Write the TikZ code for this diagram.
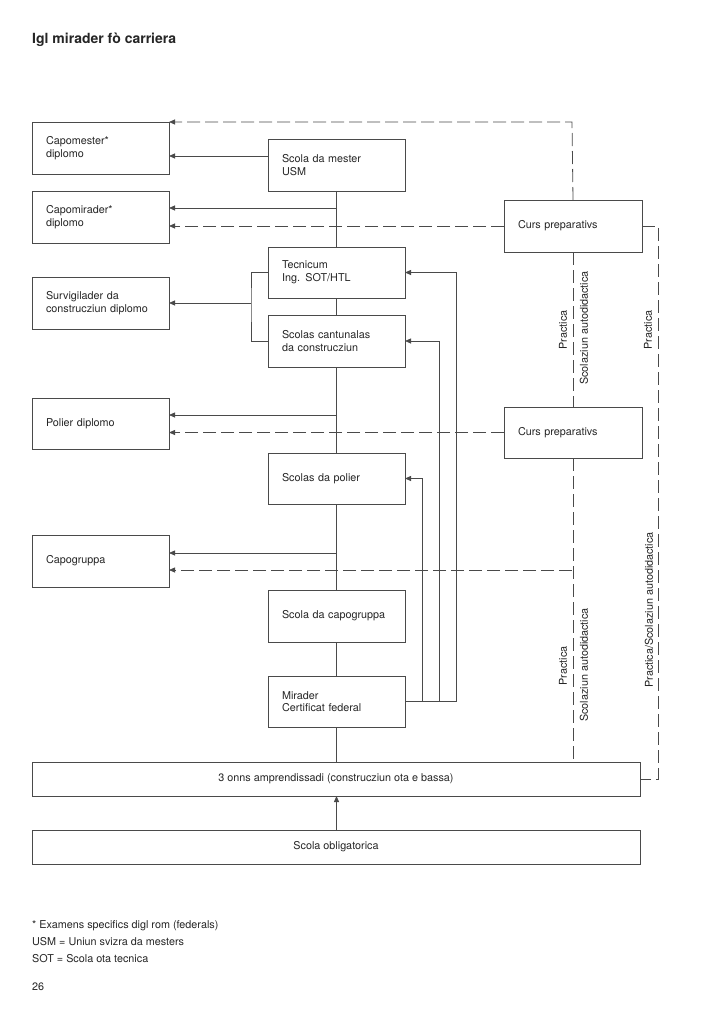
\documentclass[tikz,border=0pt]{standalone}
\usepackage{fontspec}
\setmainfont{TeX Gyre Heros}
\usetikzlibrary{arrows.meta}
\definecolor{lc}{HTML}{4A4A4A}
\definecolor{tc}{HTML}{262626}
\begin{document}
\begin{tikzpicture}[x=1pt,y=-1pt,
  every node/.style={text=tc},
  bfont/.style={font=\fontsize{10.8}{12.6}\selectfont},
  box/.style={draw=lc, line width=0.8pt, rectangle, anchor=north west, outer sep=0pt,
    minimum height=52pt, text width=109pt, inner xsep=14pt, inner ysep=0pt, align=left, bfont},
  wbox/.style={draw=lc, line width=0.8pt, rectangle, anchor=north west, outer sep=0pt,
    minimum height=34pt, minimum width=608pt, inner sep=0pt, align=center, bfont},
  ln/.style={draw=lc, line width=0.8pt},
  arr/.style={ln, -{Triangle[length=6pt,width=5pt]}},
  dsh/.style={dash pattern=on 13pt off 5pt},
  lab/.style={rotate=90, bfont, inner sep=0pt}
]
\useasboundingbox[fill=white] (0,0) rectangle (725,1024);

\node[anchor=base west, inner sep=0pt, font=\bfseries\fontsize{14}{16}\selectfont] (title) at (32,44) {Igl mirader fò carriera};

% left boxes
\node[box] (capomester) at (32,122) {Capomester*\\diplomo};
\node[box] (capomirader) at (32,191) {Capomirader*\\diplomo};
\node[box] (survig) at (32,277) {Survigilader da\\construcziun diplomo};
\node[box, minimum height=51pt] (polierd) at (32,398) {Polier diplomo};
\node[box] (capogruppa) at (32,535) {Capogruppa};

% center boxes
\node[box] (mester) at (268,139) {Scola da mester\\USM};
\node[box, minimum height=51pt] (tecnicum) at (268,247) {Tecnicum\\Ing. SOT/HTL};
\node[box] (cantunalas) at (268,315) {Scolas cantunalas\\da construcziun};
\node[box, minimum height=51pt] (polier) at (268,453) {Scolas da polier};
\node[box] (scapo) at (268,590) {Scola da capogruppa};
\node[box, minimum height=51pt] (mirader) at (268,676) {Mirader\\Certificat federal};

% right boxes
\node[box, text width=110pt] (cp1) at (504,200) {Curs preparativs};
\node[box, text width=110pt, minimum height=51pt] (cp2) at (504,407) {Curs preparativs};

% bottom boxes
\node[wbox] (onns) at (32,762) {3 onns amprendissadi (construcziun ota e bassa)};
\node[wbox] (oblig) at (32,830) {Scola obligatorica};

% spine
\draw[ln] (mester.south) -- (tecnicum.north);
\draw[ln] (tecnicum.south) -- (cantunalas.north);
\draw[ln] (cantunalas.south) -- (polier.north);
\draw[ln] (polier.south) -- (scapo.north);
\draw[ln] (scapo.south) -- (mirader.north);
\draw[ln] (mirader.south) -- (onns.north -| mirader.south);
\draw[arr] (oblig.north -| mirader.south) -- (onns.south -| mirader.south);

% junctions on spine
\coordinate (m1) at (268,156);
\coordinate (j1) at (337,208);
\coordinate (j2) at (337,415);
\coordinate (j3) at (337,553);
\coordinate (br) at (251,303);
\coordinate (d1) at (572,122);
\coordinate (d2) at (572,570);

% solid arrows to the left
\draw[arr] (m1) -- (capomester.east |- m1);
\draw[arr] (j1) -- (capomirader.east |- j1);
\draw[ln] (tecnicum.west) -| (br) |- (cantunalas.west);
\draw[arr] (br) -- (survig.east |- br);
\draw[arr] (j2) -- (polierd.east |- j2);
\draw[arr] (j3) -- (capogruppa.east |- j3);

% feedback from Mirader
\draw[arr] (mirader.east) -| ([xshift=51pt]tecnicum.east) -- (tecnicum.east);
\draw[arr] (mirader.east) -| ([xshift=34pt]cantunalas.east) -- (cantunalas.east);
\draw[arr] (mirader.east) -| ([xshift=17pt]polier.east) -- (polier.east);

% dashed paths
\draw[arr, dsh] (cp1.north) -- (d1) -- (capomester.north east);
\draw[arr, dsh] (cp1.west) -- (capomirader.east |- cp1.west);
\draw[ln, dsh] (cp1.south) -- (cp2.north);
\draw[arr, dsh] (cp2.west) -- (polierd.east |- cp2.west);
\draw[ln, dsh] (cp2.south) -- (onns.north -| cp2.south);
\draw[arr, dsh] (d2) -- (capogruppa.east |- d2);
\draw[ln, dsh] (cp1.east) -- ++(16,0) |- (onns.east);

% rotated labels
\node[lab] (l1) at (563,330) {Practica};
\node[lab] (l2) at (584,328) {Scolaziun autodidactica};
\node[lab] (l3) at (648,330) {Practica};
\node[lab] (l4) at (563,666) {Practica};
\node[lab] (l5) at (584,665) {Scolaziun autodidactica};
\node[lab] (l6) at (649,610) {Practica/Scolaziun autodidactica};

% footnotes
\node[anchor=west, inner sep=0pt, bfont] (f1) at (32,926) {* Examens specifics digl rom (federals)};
\node[anchor=west, inner sep=0pt, bfont] (f2) at (32,942) {USM = Uniun svizra da mesters};
\node[anchor=west, inner sep=0pt, bfont] (f3) at (32,959) {SOT = Scola ota tecnica};
\node[anchor=west, inner sep=0pt, bfont] (f4) at (32,987) {26};
\end{tikzpicture}
\end{document}
